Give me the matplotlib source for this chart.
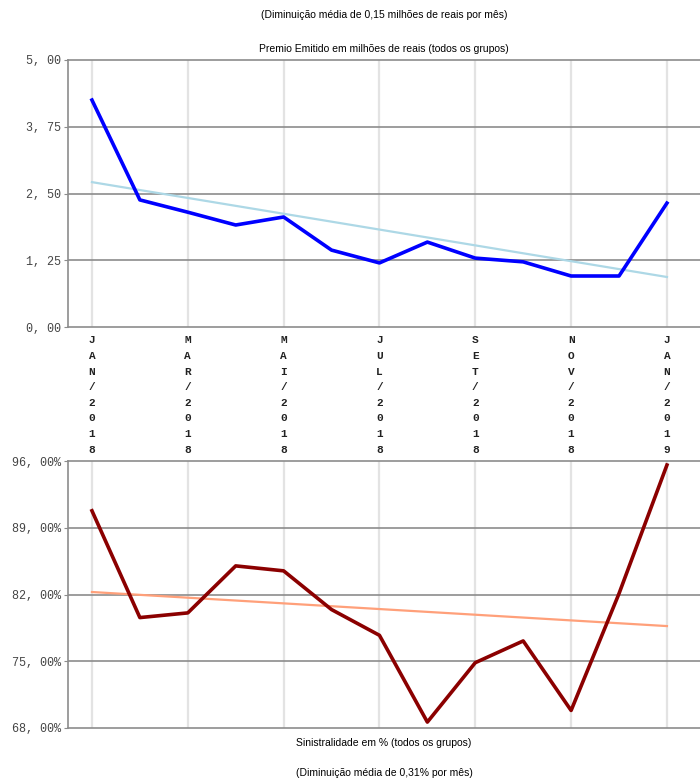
import matplotlib

matplotlib.use("Agg")
import matplotlib.pyplot as plt
import numpy as np

months = [
    "JAN/2018", "FEV/2018", "MAR/2018", "ABR/2018", "MAI/2018", "JUN/2018", "JUL/2018",
    "AGO/2018", "SET/2018", "OUT/2018", "NOV/2018", "DEZ/2018", "JAN/2019",
]
premio = [4.25, 2.38, 2.15, 1.91, 2.06, 1.44, 1.20, 1.59, 1.29, 1.22, 0.955, 0.955, 2.32]
sinistralidade = [90.78, 79.58, 80.07, 85.00, 84.48, 80.42, 77.72, 68.62, 74.85, 77.13, 69.84, 82.10, 95.58]

premio_ticks = [0.0, 1.25, 2.5, 3.75, 5.0]
sinis_ticks = [68, 75, 82, 89, 96]

title_top = "(Diminuição média de 0,15 milhões de reais por mês)"
subtitle_top = "Premio Emitido em milhões de reais (todos os grupos)"
subtitle_bottom = "Sinistralidade em % (todos os grupos)"
title_bottom = "(Diminuição média de 0,31% por mês)"

W, H = 700, 780
SANS = "Liberation Sans"
MONO = "Liberation Mono"


def style_axes(ax, yticks, fmt):
    x = np.arange(len(months))
    ax.set_xlim(-0.5, 12.69)
    ax.set_ylim(yticks[0], yticks[-1])
    ax.set_yticks(yticks)
    ax.set_yticklabels([fmt(v) for v in yticks], family=MONO, fontsize=8.5, color="#444444")
    ax.set_xticks(x[::2])
    for v in x[::2]:
        ax.axvline(v, color="#e3e3e3", linewidth=1.6, zorder=0)
    for v in yticks[1:-1]:
        ax.axhline(v, color="#8c8c8c", linewidth=1.2, zorder=1)
    for side in ["left", "bottom", "top"]:
        ax.spines[side].set_color("#8c8c8c")
        ax.spines[side].set_linewidth(1.2)
    ax.spines["right"].set_visible(False)
    ax.tick_params(axis="y", length=3, color="#8c8c8c", pad=2)
    ax.tick_params(axis="x", length=0)


fig = plt.figure(figsize=(W / 100, H / 100), dpi=100)
ax1 = fig.add_axes([68 / W, 1 - 327 / H, 632 / W, 267 / H])
ax2 = fig.add_axes([68 / W, 1 - 728 / H, 632 / W, 267 / H])

x = np.arange(len(months))

# top: premio emitido
style_axes(ax1, premio_ticks, lambda v: f"{v:.2f}".replace(".", ", "))
fit1 = np.polyfit(x, premio, 1)
ax1.plot(x, np.polyval(fit1, x), color="#add8e6", linewidth=1.6, zorder=2)
ax1.plot(x, premio, color="#0000ff", linewidth=2.6, zorder=3)
ax1.set_xticklabels(["\n".join(m) for m in months[::2]], family=MONO, fontsize=8,
                    fontweight="bold", color="#222222", linespacing=1.7, va="top")
ax1.tick_params(axis="x", pad=6)

# bottom: sinistralidade
style_axes(ax2, sinis_ticks, lambda v: f"{v:.2f}".replace(".", ", ") + "%")
fit2 = np.polyfit(x, sinistralidade, 1)
ax2.plot(x, np.polyval(fit2, x), color="#ffa07a", linewidth=1.6, zorder=2)
ax2.plot(x, sinistralidade, color="#8b0000", linewidth=2.6, zorder=3)
ax2.set_xticklabels([])

cx = (68 + 700) / 2 / W
fig.text(cx, 1 - 15 / H, title_top, ha="center", va="center", family=SANS, fontsize=7.5)
fig.text(cx, 1 - 49 / H, subtitle_top, ha="center", va="center", family=SANS, fontsize=7.5)
fig.text(cx, 1 - 743 / H, subtitle_bottom, ha="center", va="center", family=SANS, fontsize=7.5)
fig.text(cx, 1 - 773 / H, title_bottom, ha="center", va="center", family=SANS, fontsize=7.5)

fig.savefig("out.png", dpi=100)
